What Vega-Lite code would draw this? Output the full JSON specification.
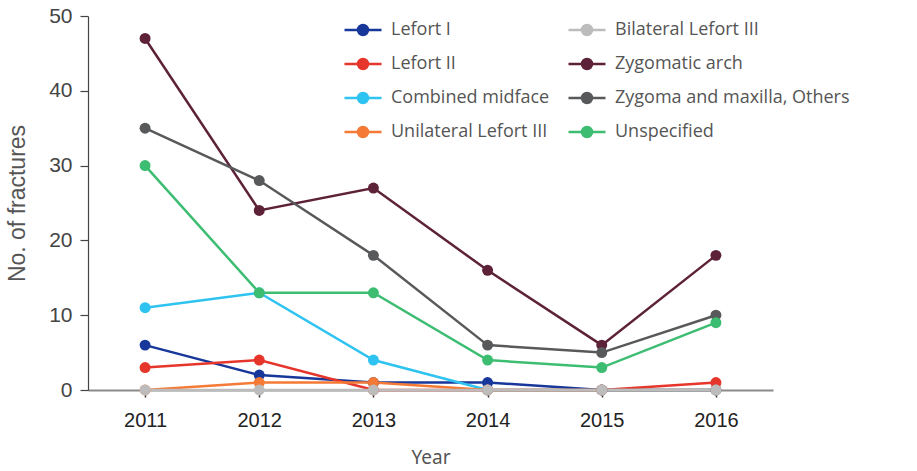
{
  "$schema": "https://vega.github.io/schema/vega-lite/v6.json",
  "width": 685,
  "height": 374,
  "autosize": "none",
  "padding": {"left": 88, "top": 16, "right": 144, "bottom": 81},
  "background": "white",
  "config": {"view": {"stroke": null}},
  "data": {"values": [
    {"year": "2011", "type": "Lefort I", "n": 6},
    {"year": "2012", "type": "Lefort I", "n": 2},
    {"year": "2013", "type": "Lefort I", "n": 1},
    {"year": "2014", "type": "Lefort I", "n": 1},
    {"year": "2015", "type": "Lefort I", "n": 0},
    {"year": "2016", "type": "Lefort I", "n": 0},
    {"year": "2011", "type": "Lefort II", "n": 3},
    {"year": "2012", "type": "Lefort II", "n": 4},
    {"year": "2013", "type": "Lefort II", "n": 0},
    {"year": "2014", "type": "Lefort II", "n": 0},
    {"year": "2015", "type": "Lefort II", "n": 0},
    {"year": "2016", "type": "Lefort II", "n": 1},
    {"year": "2011", "type": "Combined midface", "n": 11},
    {"year": "2012", "type": "Combined midface", "n": 13},
    {"year": "2013", "type": "Combined midface", "n": 4},
    {"year": "2014", "type": "Combined midface", "n": 0},
    {"year": "2015", "type": "Combined midface", "n": 0},
    {"year": "2016", "type": "Combined midface", "n": 0},
    {"year": "2011", "type": "Unilateral Lefort III", "n": 0},
    {"year": "2012", "type": "Unilateral Lefort III", "n": 1},
    {"year": "2013", "type": "Unilateral Lefort III", "n": 1},
    {"year": "2014", "type": "Unilateral Lefort III", "n": 0},
    {"year": "2015", "type": "Unilateral Lefort III", "n": 0},
    {"year": "2016", "type": "Unilateral Lefort III", "n": 0},
    {"year": "2011", "type": "Bilateral Lefort III", "n": 0},
    {"year": "2012", "type": "Bilateral Lefort III", "n": 0},
    {"year": "2013", "type": "Bilateral Lefort III", "n": 0},
    {"year": "2014", "type": "Bilateral Lefort III", "n": 0},
    {"year": "2015", "type": "Bilateral Lefort III", "n": 0},
    {"year": "2016", "type": "Bilateral Lefort III", "n": 0},
    {"year": "2011", "type": "Zygomatic arch", "n": 47},
    {"year": "2012", "type": "Zygomatic arch", "n": 24},
    {"year": "2013", "type": "Zygomatic arch", "n": 27},
    {"year": "2014", "type": "Zygomatic arch", "n": 16},
    {"year": "2015", "type": "Zygomatic arch", "n": 6},
    {"year": "2016", "type": "Zygomatic arch", "n": 18},
    {"year": "2011", "type": "Zygoma and maxilla, Others", "n": 35},
    {"year": "2012", "type": "Zygoma and maxilla, Others", "n": 28},
    {"year": "2013", "type": "Zygoma and maxilla, Others", "n": 18},
    {"year": "2014", "type": "Zygoma and maxilla, Others", "n": 6},
    {"year": "2015", "type": "Zygoma and maxilla, Others", "n": 5},
    {"year": "2016", "type": "Zygoma and maxilla, Others", "n": 10},
    {"year": "2011", "type": "Unspecified", "n": 30},
    {"year": "2012", "type": "Unspecified", "n": 13},
    {"year": "2013", "type": "Unspecified", "n": 13},
    {"year": "2014", "type": "Unspecified", "n": 4},
    {"year": "2015", "type": "Unspecified", "n": 3},
    {"year": "2016", "type": "Unspecified", "n": 9}
  ]},
  "mark": {"type": "line", "strokeWidth": 2.5, "point": {"filled": true, "size": 120, "opacity": 1}},
  "encoding": {
    "x": {
      "field": "year", "type": "ordinal",
      "scale": {"type": "point", "padding": 0.5},
      "axis": {
        "title": "Year", "labelAngle": 0,
        "labelFont": "Liberation Sans", "labelFontSize": 20, "labelColor": "#222", "labelPadding": 13,
        "titleFont": "Noto Sans", "titleFontSize": 19, "titleFontWeight": "normal", "titleColor": "#555", "titlePadding": 18,
        "domainColor": "#8a8a8a", "domainWidth": 2,
        "tickColor": "#333", "tickSize": 7, "tickWidth": 1.5,
        "grid": false
      }
    },
    "y": {
      "field": "n", "type": "quantitative",
      "scale": {"domain": [0, 50], "nice": false},
      "axis": {
        "title": "No. of fractures", "values": [0, 10, 20, 30, 40, 50],
        "labelFont": "Liberation Sans", "labelFontSize": 21, "labelColor": "#444", "labelPadding": 8,
        "titleFont": "Liberation Sans", "titleFontSize": 23, "titleFontWeight": "normal", "titleColor": "#555", "titlePadding": 19,
        "domainColor": "#444", "domainWidth": 1.2,
        "tickColor": "#444", "tickSize": 8, "tickWidth": 1.2,
        "grid": false
      }
    },
    "color": {
      "field": "type", "type": "nominal",
      "scale": {
        "domain": ["Lefort I", "Lefort II", "Combined midface", "Unilateral Lefort III", "Bilateral Lefort III", "Zygomatic arch", "Zygoma and maxilla, Others", "Unspecified"],
        "range": ["#17379a", "#e6352b", "#2ec3f0", "#f47a36", "#bcbcbc", "#5d2238", "#58595b", "#3dbd72"]
      },
      "legend": {
        "title": null, "orient": "none", "legendX": 255, "legendY": -6, "columns": 2, "padding": 0,
        "symbolType": "M-1,0H1M-0.27,0A0.27,0.27,0,1,1,0.27,0A0.27,0.27,0,1,1,-0.27,0Z",
        "symbolSize": 1369, "symbolStrokeWidth": 2.5,
        "labelFont": "Open Sans", "labelFontSize": 18, "labelColor": "#555", "labelOffset": 8,
        "columnPadding": 13, "rowPadding": 4, "labelLimit": 400,
        "encode": {"symbols": {"update": {"fill": {"scale": "color", "field": "value"}}}}
      }
    }
  }
}
